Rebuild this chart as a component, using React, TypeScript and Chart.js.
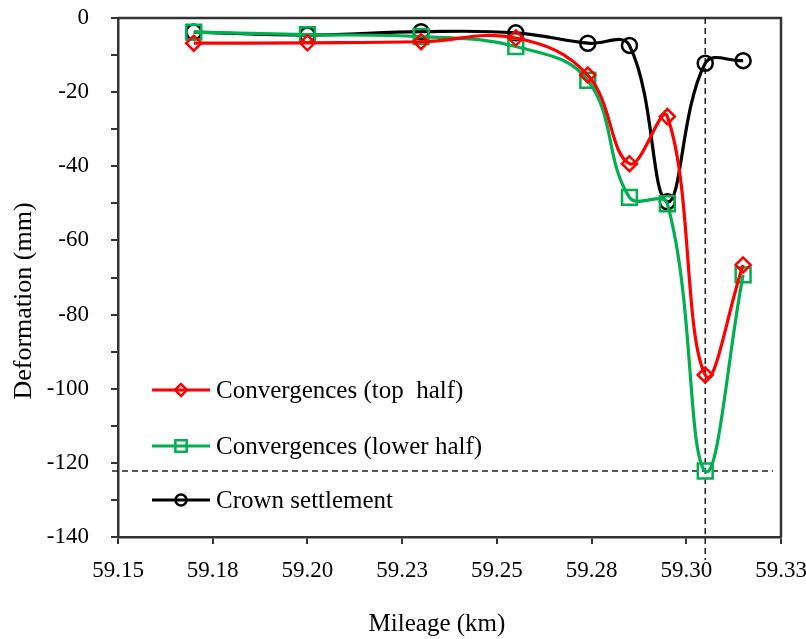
import React, { useEffect, useRef } from 'react';
import { Chart, registerables } from 'chart.js';

Chart.register(...registerables);

// ---- Data ----
const mileage = [59.17, 59.2, 59.23, 59.255, 59.274, 59.285, 59.295, 59.305, 59.315];
const topHalf = [-6.8, -6.7, -6.4, -5.4, -15.4, -39.3, -26.6, -96.3, -66.6];
const lowerHalf = [-3.8, -4.5, -5.0, -7.7, -16.8, -48.4, -50.1, -122.2, -69.3];
const crown = [-3.8, -4.6, -3.7, -4.0, -6.8, -7.4, -49.6, -12.2, -11.5];

const seriesNames = ['Convergences (top  half)', 'Convergences (lower half)', 'Crown settlement'];
const xTickLabels = ['59.15', '59.18', '59.20', '59.23', '59.25', '59.28', '59.30', '59.33'];
const yMajorTicks = [0, -20, -40, -60, -80, -100, -120, -140];

const refMileage = 59.305;
const refDeformation = -122.2;

const xTitle = 'Mileage (km)';
const yTitle = 'Deformation (mm)';

const FONT = "'Liberation Serif', 'Times New Roman', serif";
const AXIS_COLOR = '#333333';

const COLORS = ['#ff0000', '#00b050', '#000000'];
const SHAPES = ['rectRot', 'rect', 'circle'];

function drawMarker(ctx: CanvasRenderingContext2D, shape: string, x: number, y: number, r: number) {
  ctx.beginPath();
  if (shape === 'rectRot') {
    ctx.moveTo(x - r, y);
    ctx.lineTo(x, y - r);
    ctx.lineTo(x + r, y);
    ctx.lineTo(x, y + r);
    ctx.closePath();
  } else if (shape === 'rect') {
    const s = r * Math.SQRT1_2;
    ctx.rect(x - s, y - s, 2 * s, 2 * s);
  } else {
    ctx.arc(x, y, r, 0, Math.PI * 2);
  }
  ctx.stroke();
}

const decorPlugin = {
  id: 'decor',
  beforeDatasetsDraw(chart: any) {
    const { ctx, chartArea, scales } = chart;
    const xs = scales.x;
    const ys = scales.y;
    ctx.save();
    // frame top & right
    ctx.strokeStyle = AXIS_COLOR;
    ctx.lineWidth = 2.5;
    ctx.beginPath();
    ctx.moveTo(chartArea.left, chartArea.top);
    ctx.lineTo(chartArea.right, chartArea.top);
    ctx.lineTo(chartArea.right, chartArea.bottom);
    ctx.stroke();
    // dashed reference lines
    ctx.strokeStyle = '#222222';
    ctx.lineWidth = 1.5;
    ctx.setLineDash([6, 4]);
    const rx = xs.getPixelForValue(refMileage);
    const ry = ys.getPixelForValue(refDeformation);
    ctx.beginPath();
    ctx.moveTo(rx, chartArea.top);
    ctx.lineTo(rx, chartArea.bottom + 23);
    ctx.stroke();
    ctx.beginPath();
    ctx.moveTo(chartArea.left - 6, ry);
    ctx.lineTo(chartArea.right - 8, ry);
    ctx.stroke();
    ctx.restore();
  },
  afterDraw(chart: any) {
    const { ctx, chartArea } = chart;
    ctx.save();
    // legend
    const legendY = [chartArea.top + 372, chartArea.top + 428, chartArea.top + 482];
    const lx0 = chartArea.left + 34;
    const lx1 = chartArea.left + 92;
    const mx = (lx0 + lx1) / 2;
    for (let i = 0; i < seriesNames.length; i++) {
      const y = legendY[i];
      ctx.strokeStyle = COLORS[i];
      ctx.lineWidth = 2.8;
      ctx.setLineDash([]);
      ctx.beginPath();
      ctx.moveTo(lx0, y);
      ctx.lineTo(lx1, y);
      ctx.stroke();
      ctx.lineWidth = 2.5;
      drawMarker(ctx, SHAPES[i], mx, y, i === 1 ? 8 : i === 0 ? 6 : 5.5);
      ctx.fillStyle = '#000';
      ctx.font = `25px ${FONT}`;
      ctx.textAlign = 'left';
      ctx.textBaseline = 'middle';
      ctx.fillText(seriesNames[i], lx1 + 6, y + 1);
    }
    // axis titles
    ctx.fillStyle = '#000';
    ctx.font = `25px ${FONT}`;
    ctx.textAlign = 'center';
    ctx.textBaseline = 'middle';
    ctx.fillText(xTitle, 437, 624);
    ctx.translate(24, 301);
    ctx.rotate(-Math.PI / 2);
    ctx.font = `26px ${FONT}`;
    ctx.fillText(yTitle, 0, 0);
    ctx.restore();
  },
};

function makeDataset(label: string, values: number[], i: number) {
  return {
    label,
    data: mileage.map((m, k) => ({ x: m, y: values[k] })),
    borderColor: COLORS[i],
    backgroundColor: 'transparent',
    borderWidth: 3.2,
    pointStyle: SHAPES[i],
    pointRadius: i === 1 ? 10.5 : 7.5,
    pointBorderWidth: 2.5,
    pointBorderColor: COLORS[i],
    pointBackgroundColor: 'transparent',
    tension: 0.4,
    fill: false,
  };
}

export default function App() {
  const canvasRef = useRef<HTMLCanvasElement | null>(null);

  useEffect(() => {
    document.body.style.margin = '0';
    const canvas = canvasRef.current;
    if (!canvas) return;
    const chart = new Chart(canvas, {
      type: 'line',
      data: {
        datasets: [
          makeDataset(seriesNames[0], topHalf, 0),
          makeDataset(seriesNames[1], lowerHalf, 1),
          makeDataset(seriesNames[2], crown, 2),
        ],
      },
      options: {
        responsive: false,
        animation: false,
        devicePixelRatio: 1,
        layout: { padding: { left: 0, top: 18, right: 25, bottom: 0 } },
        plugins: {
          legend: { display: false },
          tooltip: { enabled: false },
        },
        scales: {
          x: {
            type: 'linear',
            min: 59.15,
            max: 59.325,
            afterBuildTicks: (scale: any) => {
              scale.ticks = xTickLabels.map((_, k) => ({ value: 59.15 + k * 0.025 }));
            },
            afterFit: (scale: any) => {
              scale.height = 102;
              scale.paddingLeft = 0;
              scale.paddingRight = 0;
            },
            grid: {
              display: true,
              drawOnChartArea: false,
              drawTicks: true,
              tickLength: 7,
              color: AXIS_COLOR,
              lineWidth: 2,
            },
            border: { display: true, color: AXIS_COLOR, width: 2.5 },
            ticks: {
              color: '#000',
              font: { family: FONT, size: 23 },
              padding: 13,
              maxRotation: 0,
              autoSkip: false,
              callback: (_v: any, index: number) => xTickLabels[index],
            },
          },
          y: {
            type: 'linear',
            min: -140,
            max: 0,
            afterBuildTicks: (scale: any) => {
              const t = [];
              for (let v = -140; v <= 0; v += 10) t.push({ value: v });
              scale.ticks = t;
            },
            afterFit: (scale: any) => {
              scale.width = 118;
              scale.paddingTop = 0;
              scale.paddingBottom = 0;
            },
            grid: {
              display: true,
              drawOnChartArea: false,
              drawTicks: true,
              tickLength: 7,
              color: AXIS_COLOR,
              lineWidth: 2,
            },
            border: { display: true, color: AXIS_COLOR, width: 2.5 },
            ticks: {
              color: '#000',
              font: { family: FONT, size: 23 },
              padding: 22,
              autoSkip: false,
              callback: (v: any) => (yMajorTicks.includes(Number(v)) ? String(v) : ''),
            },
          },
        },
      },
      plugins: [decorPlugin],
    } as any);
    return () => chart.destroy();
  }, []);

  return (
    <div style={{ width: 806, height: 639 }}>
      <canvas ref={canvasRef} width={806} height={639} style={{ display: 'block' }} />
    </div>
  );
}
